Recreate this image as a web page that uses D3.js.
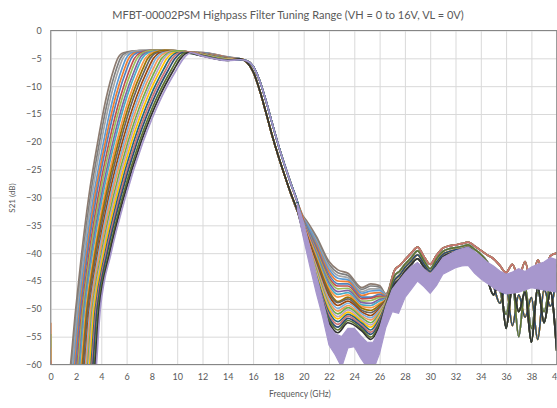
<!DOCTYPE html>
<html>
<head>
<meta charset="utf-8">
<script src="https://cdn.jsdelivr.net/npm/d3@7"></script>
<style>
  body { margin: 0; background: #fff; }
  text { font-family: Lato, 'Open Sans', sans-serif; fill: #595959; }
</style>
</head>
<body>
<div id="chart"></div>
<script>
// tick labels
const xTicks = [0, 2, 4, 6, 8, 10, 12, 14, 16, 18, 20, 22, 24, 26, 28, 30, 32, 34, 36, 38, 40];
const yTicks = [0, -5, -10, -15, -20, -25, -30, -35, -40, -45, -50, -55, -60];

// S21 value at 0 GHz for each trace (most start off the bottom of the axis)
const startDb = [-68, -68, -68, -68, -52.5, -68, -68, -54.5, -68, -68, -68, -68, -68,
  -68, -68, -57, -68, -68, -68, -68, -59.3, -68, -68, -68, -68];

// rising edge: frequency (GHz) where each trace crosses these levels
const edgeDb = [-65, -50, -40, -30, -20, -12, -7, -5, -4];
const edgeF = [
  [1.33, 1.98, 2.45, 3.00, 3.72, 4.40, 4.98, 5.30, 5.75],
  [1.42, 2.06, 2.55, 3.12, 3.86, 4.57, 5.18, 5.51, 5.97],
  [1.49, 2.13, 2.63, 3.23, 4.00, 4.74, 5.37, 5.71, 6.18],
  [1.58, 2.22, 2.74, 3.37, 4.18, 4.95, 5.61, 5.96, 6.43],
  [1.66, 2.30, 2.84, 3.48, 4.32, 5.12, 5.81, 6.17, 6.64],
  [1.74, 2.37, 2.92, 3.59, 4.45, 5.29, 6.00, 6.37, 6.85],
  [1.85, 2.47, 3.04, 3.74, 4.62, 5.50, 6.24, 6.62, 7.10],
  [1.92, 2.55, 3.13, 3.85, 4.76, 5.67, 6.43, 6.82, 7.31],
  [2.01, 2.64, 3.23, 3.98, 4.92, 5.86, 6.65, 7.04, 7.54],
  [2.08, 2.70, 3.31, 4.08, 5.05, 6.01, 6.82, 7.23, 7.74],
  [2.18, 2.80, 3.43, 4.22, 5.22, 6.22, 7.06, 7.48, 7.99],
  [2.26, 2.87, 3.51, 4.33, 5.36, 6.39, 7.26, 7.68, 8.20],
  [2.33, 2.94, 3.60, 4.44, 5.50, 6.56, 7.46, 7.89, 8.42],
  [2.44, 3.05, 3.72, 4.58, 5.67, 6.77, 7.68, 8.13, 8.66],
  [2.51, 3.12, 3.80, 4.69, 5.81, 6.94, 7.88, 8.33, 8.87],
  [2.59, 3.19, 3.89, 4.80, 5.95, 7.11, 8.08, 8.54, 9.08],
  [2.69, 3.29, 4.01, 4.94, 6.11, 7.31, 8.30, 8.78, 9.33],
  [2.77, 3.36, 4.09, 5.05, 6.24, 7.47, 8.49, 8.97, 9.53],
  [2.85, 3.43, 4.18, 5.17, 6.39, 7.65, 8.70, 9.19, 9.75],
  [2.96, 3.53, 4.30, 5.31, 6.56, 7.85, 8.92, 9.42, 9.99],
  [3.04, 3.60, 4.38, 5.42, 6.70, 8.02, 9.12, 9.63, 10.21],
  [3.12, 3.67, 4.47, 5.53, 6.84, 8.20, 9.32, 9.84, 10.42],
  [3.23, 3.77, 4.59, 5.67, 7.01, 8.40, 9.55, 10.08, 10.67],
  [3.31, 3.84, 4.67, 5.78, 7.15, 8.57, 9.74, 10.28, 10.88],
  [3.40, 3.92, 4.77, 5.90, 7.30, 8.75, 9.95, 10.50, 11.10]
];

// passband, shared part and per-trace values at 12 and 14 GHz
const passF = [7, 8, 9, 10, 11];
const passDb = [-3.62, -3.55, -3.55, -3.65, -3.9];
const pass12 = [-3.95, -3.98, -4.0, -4.03, -4.05, -4.08, -4.1, -4.13, -4.15, -4.18, -4.2, -4.23, -4.25,
  -4.28, -4.3, -4.33, -4.36, -4.4, -4.43, -4.46, -4.5, -4.52, -4.55, -4.58, -4.6];
const pass14 = [-4.75, -4.78, -4.8, -4.83, -4.85, -4.88, -4.9, -4.93, -4.95, -4.98, -5.0, -5.03, -5.05,
  -5.08, -5.1, -5.13, -5.16, -5.2, -5.23, -5.26, -5.3, -5.32, -5.35, -5.38, -5.4];

// falling edge (two groups of traces)
const fallF = [15, 15.5, 16, 16.5, 17, 17.5, 18, 18.5, 19, 19.5];
const fallEarly = [-5.1, -5.7, -7.4, -10.6, -14.6, -18.8, -22.6, -26.1, -29.4, -32.4];
const fallLate = [-5.25, -5.45, -6.4, -8.9, -12.5, -16.6, -20.6, -24.2, -27.6, -30.8];
const fallGroup = [0, 1, 0, 0, 1, 0, 1, 0, 0, 1, 0, 1, 0, 0, 1, 0, 1, 0, 0, 1, 0, 1, 0, 0, 1];

// stopband 20-26.5 GHz, traces 0..23
const stopF = [20, 21, 22, 22.7, 23.5, 24.6, 25.3, 26, 26.5];
const stopDb = [
  [-33.5, -37.0, -41.5, -43.0, -43.6, -46.2, -45.5, -45.8, -47.3],
  [-33.6, -37.3, -42.0, -43.5, -44.0, -46.5, -45.9, -46.1, -47.4],
  [-33.8, -37.7, -42.4, -44.0, -44.4, -46.9, -46.4, -46.4, -47.5],
  [-33.9, -38.0, -42.9, -44.5, -44.8, -47.2, -46.8, -46.7, -47.6],
  [-34.0, -38.4, -43.4, -45.0, -45.1, -47.6, -47.2, -47.1, -47.7],
  [-34.2, -38.8, -43.9, -45.5, -45.5, -47.9, -47.9, -47.4, -47.8],
  [-34.3, -39.2, -44.4, -45.9, -45.9, -48.2, -48.1, -47.7, -47.9],
  [-34.5, -39.6, -44.8, -46.4, -46.3, -48.6, -48.5, -48.0, -48.0],
  [-34.6, -40.0, -45.3, -46.9, -46.7, -48.9, -49.0, -48.3, -48.1],
  [-34.8, -40.3, -45.8, -47.4, -47.1, -49.3, -49.4, -48.6, -48.2],
  [-34.9, -40.7, -46.3, -47.9, -47.5, -49.6, -49.8, -49.0, -48.3],
  [-35.0, -41.1, -46.8, -48.7, -47.9, -49.9, -50.3, -49.3, -48.4],
  [-35.2, -41.5, -47.2, -48.9, -48.2, -50.3, -50.7, -49.6, -48.4],
  [-35.3, -41.9, -47.7, -49.4, -48.6, -50.6, -51.2, -49.9, -48.5],
  [-35.5, -42.3, -48.2, -49.9, -49.0, -50.9, -51.6, -50.2, -48.6],
  [-35.6, -42.6, -48.7, -50.4, -49.4, -51.3, -52.0, -50.5, -48.7],
  [-35.8, -43.0, -49.2, -50.9, -49.8, -51.6, -52.5, -50.8, -48.8],
  [-35.9, -43.4, -49.6, -51.4, -50.2, -52.0, -52.9, -51.1, -48.9],
  [-36.0, -43.8, -50.1, -51.8, -50.6, -52.3, -53.3, -51.4, -49.0],
  [-36.2, -44.1, -50.6, -52.3, -51.0, -52.6, -53.8, -51.7, -49.1],
  [-36.3, -44.5, -51.1, -52.8, -51.3, -53.0, -54.2, -52.1, -49.2],
  [-36.5, -44.8, -51.6, -53.3, -51.7, -53.3, -54.6, -52.4, -49.3],
  [-36.6, -45.2, -52.0, -53.8, -52.1, -53.7, -55.1, -52.7, -49.4],
  [-36.8, -45.5, -52.5, -54.3, -52.5, -54.0, -55.5, -53.0, -49.5]
];

// noisy stopband 27-40 GHz, four kinds of trace
const tailF = [27.2, 27.6, 28, 28.5, 29, 29.5, 30, 30.5, 31, 31.5, 32, 32.5, 33, 33.5, 34,
  34.5, 35, 35.5, 36, 36.5, 37, 37.5, 38, 38.5, 39, 39.5, 40];
const tailA = [-43.0, -42.2, -41.2, -40.0, -38.9, -40.6, -42.0, -40.4, -39.1, -38.7, -38.5, -38.3, -38.0, -38.7,
  -39.5, -40.3, -41.0, -42.2, -43.5, -42.0, -44.5, -41.5, -46.0, -41.2, -44.0, -40.5, -40.0];
const tailB = [-44.0, -43.2, -42.0, -40.8, -39.6, -41.3, -42.8, -41.0, -39.7, -39.2, -39.0, -38.8, -38.5, -39.3,
  -40.2, -41.5, -43.5, -46.5, -51.0, -45.5, -55.0, -46.0, -53.5, -47.0, -50.5, -45.0, -42.0];
const tailC = [-44.8, -43.9, -42.6, -41.4, -40.3, -41.9, -43.3, -41.6, -40.2, -39.7, -39.4, -39.2, -38.9, -39.9,
  -41.0, -43.0, -45.8, -49.0, -46.0, -53.0, -47.5, -51.5, -48.0, -55.5, -46.5, -49.5, -43.5];
const tailD = [-45.5, -44.6, -43.3, -42.0, -41.0, -42.5, -44.0, -42.2, -40.7, -40.1, -39.8, -39.6, -39.3, -40.5,
  -42.0, -44.5, -47.5, -44.5, -53.5, -46.0, -50.5, -47.0, -56.0, -46.0, -52.5, -47.0, -57.5];
const tails = [tailA, tailB, tailC, tailD];
const tailGroup = [0, 1, 2, 3, 0, 2, 1, 3, 0, 1, 2, 3, 0, 3, 1, 2, 0, 1, 2, 3, 0, 2, 1, 3];

// last trace (VH = 16V) above 19.5 GHz: very noisy, drawn as its spread
const lavF = [19.5, 20, 20.5, 21, 21.5, 22, 22.5, 23, 23.5, 24, 24.5, 25, 25.5, 26, 26.5, 27, 27.5, 28, 28.5,
  29, 29.5, 30, 30.5, 31, 31.5, 32, 32.5, 33, 33.5, 34, 34.5, 35, 35.5, 36, 36.5, 37, 37.5, 38, 38.5, 39, 39.5, 40];
const lavHi = [-31.0, -34.6, -39.0, -44.0, -48.5, -53.0, -54.5, -55.0, -53.5, -53.5, -54.8, -56.0, -56.0, -53.5,
  -49.5, -46.5, -45.0, -43.6, -42.4, -41.7, -42.8, -43.8, -42.4, -40.8, -40.2, -39.6, -39.2, -38.9, -39.7, -40.6,
  -41.6, -42.3, -43.2, -43.8, -43.4, -42.8, -43.3, -42.5, -42.0, -41.6, -40.8, -41.2];
const lavLo = [-32.2, -37.5, -42.5, -47.2, -51.5, -56.5, -58.3, -60.5, -57.0, -56.8, -58.8, -60.5, -61.0, -58.0,
  -53.3, -50.5, -50.8, -48.0, -46.5, -45.0, -46.0, -47.2, -45.8, -43.8, -43.2, -42.6, -42.3, -42.2, -43.6, -44.6,
  -45.4, -46.2, -46.9, -47.3, -47.2, -47.0, -46.6, -46.2, -46.4, -46.6, -46.8, -47.0];

const colors = ['#8c7b70', '#7f7f7f', '#a5a5a5', '#5b9bd5', '#ed7d31', '#4f81bd', '#c0504d', '#9bbb59',
  '#8064a2', '#4bacc6', '#f79646', '#997300', '#636363', '#9e480e', '#7cafdd', '#f1975a', '#70ad47',
  '#b3a2c7', '#ffc000', '#276a7c', '#cd7371', '#2c4d75', '#5f7530', '#333333', '#a797cd'];

const W = 557, H = 408;
const svg = d3.select('#chart').append('svg').attr('width', W).attr('height', H);

const x = d3.scaleLinear().domain([0, 40]).range([50.7, 556.7]);
const y = d3.scaleLinear().domain([-60, 0]).range([364.5, 30.5]);

// gridlines
svg.append('g').attr('transform', `translate(0,${y(-60)})`)
  .call(d3.axisBottom(x).tickValues(xTicks).tickSize(y(0) - y(-60)).tickFormat(''))
  .call(g => g.select('.domain').remove())
  .selectAll('line').attr('stroke', '#d9d9d9');
svg.append('g').attr('transform', `translate(${x(0)},0)`)
  .call(d3.axisLeft(y).tickValues(yTicks).tickSize(x(0) - x(40)).tickFormat(''))
  .call(g => g.select('.domain').remove())
  .selectAll('line').attr('stroke', '#d9d9d9');

svg.append('clipPath').attr('id', 'plot')
  .append('rect').attr('x', x(0)).attr('y', y(0))
  .attr('width', x(40) - x(0)).attr('height', y(-60) - y(0));

// build each trace from the tables
const traces = edgeF.map((row, i) => {
  const pts = [[0, startDb[i]], [0.08, -75]];
  row.forEach((f, j) => pts.push([f, edgeDb[j]]));
  const last = row[row.length - 1];
  passF.forEach((f, j) => { if (f > last + 0.6) pts.push([f, passDb[j]]); });
  pts.push([12, pass12[i]], [14, pass14[i]]);
  const fall = fallGroup[i] ? fallLate : fallEarly;
  fallF.forEach((f, j) => pts.push([f, fall[j]]));
  if (i < stopDb.length) {
    stopF.forEach((f, j) => pts.push([f, stopDb[i][j]]));
    const t = tails[tailGroup[i]];
    tailF.forEach((f, j) => pts.push([f, t[j]]));
  }
  return pts;
});

const line = d3.line().x(d => x(d[0])).y(d => y(d[1])).curve(d3.curveMonotoneX);
const plot = svg.append('g').attr('clip-path', 'url(#plot)');

plot.selectAll('path.trace')
  .data(traces)
  .enter().append('path')
  .attr('class', 'trace')
  .attr('d', line)
  .attr('fill', 'none')
  .attr('stroke', (d, i) => colors[i])
  .attr('stroke-width', 1.7);

const lavArea = d3.area()
  .x((d, i) => x(lavF[i]))
  .y0((d, i) => y(lavLo[i]))
  .y1((d, i) => y(lavHi[i]));
plot.append('path')
  .attr('d', lavArea(lavF))
  .attr('fill', colors[24])
  .attr('stroke', colors[24])
  .attr('stroke-width', 1.2);

// plot border
svg.append('rect')
  .attr('x', x(0)).attr('y', y(0))
  .attr('width', x(40) - x(0)).attr('height', y(-60) - y(0))
  .attr('fill', 'none').attr('stroke', '#868686').attr('stroke-width', 1);

// axes labels
svg.append('g').attr('transform', `translate(0,${y(-60)})`)
  .call(d3.axisBottom(x).tickValues(xTicks).tickSize(0).tickPadding(9))
  .call(g => g.select('.domain').remove())
  .selectAll('text').attr('font-size', 9).style('font-family', 'Lato, sans-serif');
svg.append('g').attr('transform', `translate(${x(0)},0)`)
  .call(d3.axisLeft(y).tickValues(yTicks).tickSize(0).tickPadding(9))
  .call(g => g.select('.domain').remove())
  .selectAll('text').attr('font-size', 9).style('font-family', 'Lato, sans-serif');

svg.append('text')
  .attr('x', 288).attr('y', 19)
  .attr('text-anchor', 'middle')
  .attr('font-size', 11)
  .text('MFBT-00002PSM Highpass Filter Tuning Range (VH = 0 to 16V, VL = 0V)');

svg.append('text')
  .attr('transform', 'translate(15,198) rotate(-90)')
  .attr('text-anchor', 'middle')
  .attr('font-size', 8)
  .text('S21 (dB)');

svg.append('text')
  .attr('x', 300).attr('y', 397)
  .attr('text-anchor', 'middle')
  .attr('font-size', 8.5)
  .text('Frequency (GHz)');
</script>
</body>
</html>
